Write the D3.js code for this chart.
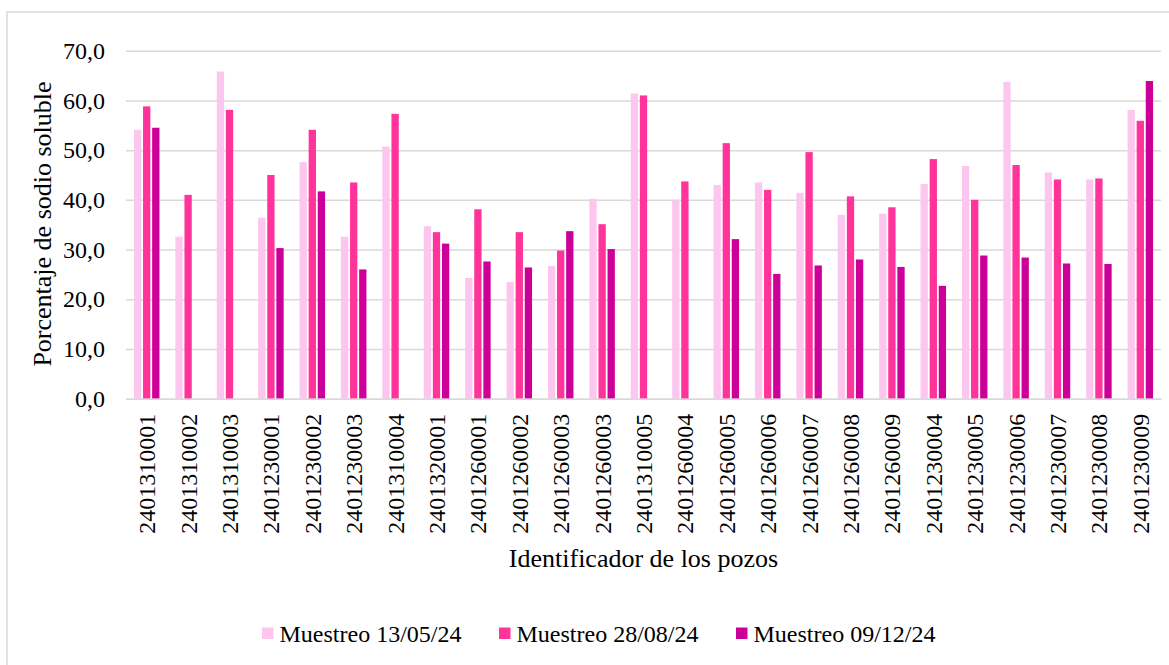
<!DOCTYPE html>
<html>
<head>
<meta charset="utf-8">
<script src="https://cdn.jsdelivr.net/npm/d3@7"></script>
<style>
  body { margin: 0; background: #fff; }
  svg text { font-family: "Liberation Serif", "Times New Roman", Times, "DejaVu Serif", "Noto Serif", serif !important; }
</style>
</head>
<body>
<svg width="1169" height="665"></svg>
<script>
// identificadores de los pozos (hay un id repetido, por eso se usa el indice)
const pozos = ["2401310001","2401310002","2401310003","2401230001","2401230002","2401230003",
  "2401310004","2401320001","2401260001","2401260002","2401260003","2401260003","2401310005",
  "2401260004","2401260005","2401260006","2401260007","2401260008","2401260009","2401230004",
  "2401230005","2401230006","2401230007","2401230008","2401230009"];

const muestreo1 = [54.1, 32.6, 65.8, 36.4, 47.6, 32.6, 50.7, 34.7, 24.3, 23.5, 26.7, 40.2, 61.4,
  40.0, 43.0, 43.5, 41.4, 37.0, 37.2, 43.2, 46.8, 63.7, 45.5, 44.1, 58.1];
const muestreo2 = [58.8, 41.0, 58.1, 45.0, 54.1, 43.5, 57.3, 33.5, 38.1, 33.5, 29.8, 35.1, 61.0,
  43.7, 51.4, 42.0, 49.6, 40.7, 38.5, 48.2, 40.0, 47.0, 44.1, 44.3, 55.9];
const muestreo3 = [54.5, null, null, 30.3, 41.7, 26.0, null, 31.2, 27.6, 26.4, 33.7, 30.1, null,
  null, 32.1, 25.1, 26.8, 28.0, 26.5, 22.7, 28.8, 28.4, 27.2, 27.1, 63.9];

const series = ["Muestreo 13/05/24", "Muestreo 28/08/24", "Muestreo 09/12/24"];
const colores = ["#fcc6ee", "#ff3399", "#cc0099"];
const yTicks = [0, 10, 20, 30, 40, 50, 60, 70];

const valores = [muestreo1, muestreo2, muestreo3];

const svg = d3.select("svg");

// marco exterior
svg.append("rect")
  .attr("x", 7).attr("y", 12)
  .attr("width", 1180).attr("height", 680)
  .attr("fill", "none").attr("stroke", "#d9d9d9").attr("stroke-width", 1.5);

const mLeft = 126, mRight = 1161, mTop = 50.7, mBottom = 398.7;

let x0 = d3.scaleBand().domain(d3.range(pozos.length)).range([mLeft, mRight]);
let x1 = d3.scaleBand().domain(d3.range(series.length)).range([0, 27.3]);
let y = d3.scaleLinear().domain([0, 70]).range([mBottom, mTop]);

let fmt = d => d3.format(".1f")(d).replace(".", ",");

// grid + eje y
let gy = svg.append("g")
  .attr("transform", `translate(${mLeft},0)`)
  .call(d3.axisLeft(y).tickValues(yTicks).tickSize(-(mRight - mLeft)).tickFormat(fmt));
gy.select(".domain").remove();
gy.selectAll("line").attr("stroke", "#d9d9d9").attr("stroke-width", 1.5);
gy.selectAll("text")
  .attr("x", -21)
  .attr("font-size", 24)
  .attr("fill", "#000");

// barras
let offset = (x0.bandwidth() - 27.3) / 2;
let grupos = svg.append("g").selectAll("g")
  .data(valores)
  .enter()
  .append("g")
  .attr("fill", (d, s) => colores[s]);

grupos.each(function (vals, s) {
  d3.select(this).selectAll("rect")
    .data(vals.map((v, i) => ({ i: i, v: v })).filter(d => d.v != null))
    .enter()
    .append("rect")
    .attr("x", d => x0(d.i) + offset + x1(s) + 0.9)
    .attr("width", x1.bandwidth() - 1.8)
    .attr("y", d => y(d.v))
    .attr("height", d => y(0) - y(d.v));
});

// eje x
let gx = svg.append("g")
  .attr("transform", `translate(0,${mBottom})`)
  .call(d3.axisBottom(x0).tickSize(0).tickFormat(i => pozos[i]));
gx.select(".domain").attr("stroke", "#d9d9d9").attr("stroke-width", 1.5);
gx.selectAll("text")
  .attr("font-size", 24)
  .attr("fill", "#000")
  .attr("transform", "rotate(-90)")
  .attr("text-anchor", "end")
  .attr("x", -15)
  .attr("y", 0)
  .attr("dy", "0.35em");

// titulos
svg.append("text")
  .attr("x", (mLeft + mRight) / 2)
  .attr("y", 567)
  .attr("text-anchor", "middle")
  .attr("font-size", 26)
  .text("Identificador de los pozos");

svg.append("text")
  .attr("transform", "translate(51,224) rotate(-90)")
  .attr("text-anchor", "middle")
  .attr("font-size", 26)
  .text("Porcentaje de sodio soluble");

// leyenda
let leg = svg.append("g").selectAll("g")
  .data(series)
  .enter()
  .append("g")
  .attr("transform", (d, i) => `translate(${262 + i * 237},0)`);
leg.append("rect")
  .attr("x", 0).attr("y", 627.5)
  .attr("width", 11.5).attr("height", 11.5)
  .attr("fill", (d, i) => colores[i]);
leg.append("text")
  .attr("x", 17.5).attr("y", 641.5)
  .attr("font-size", 24)
  .text(d => d);
</script>
</body>
</html>
